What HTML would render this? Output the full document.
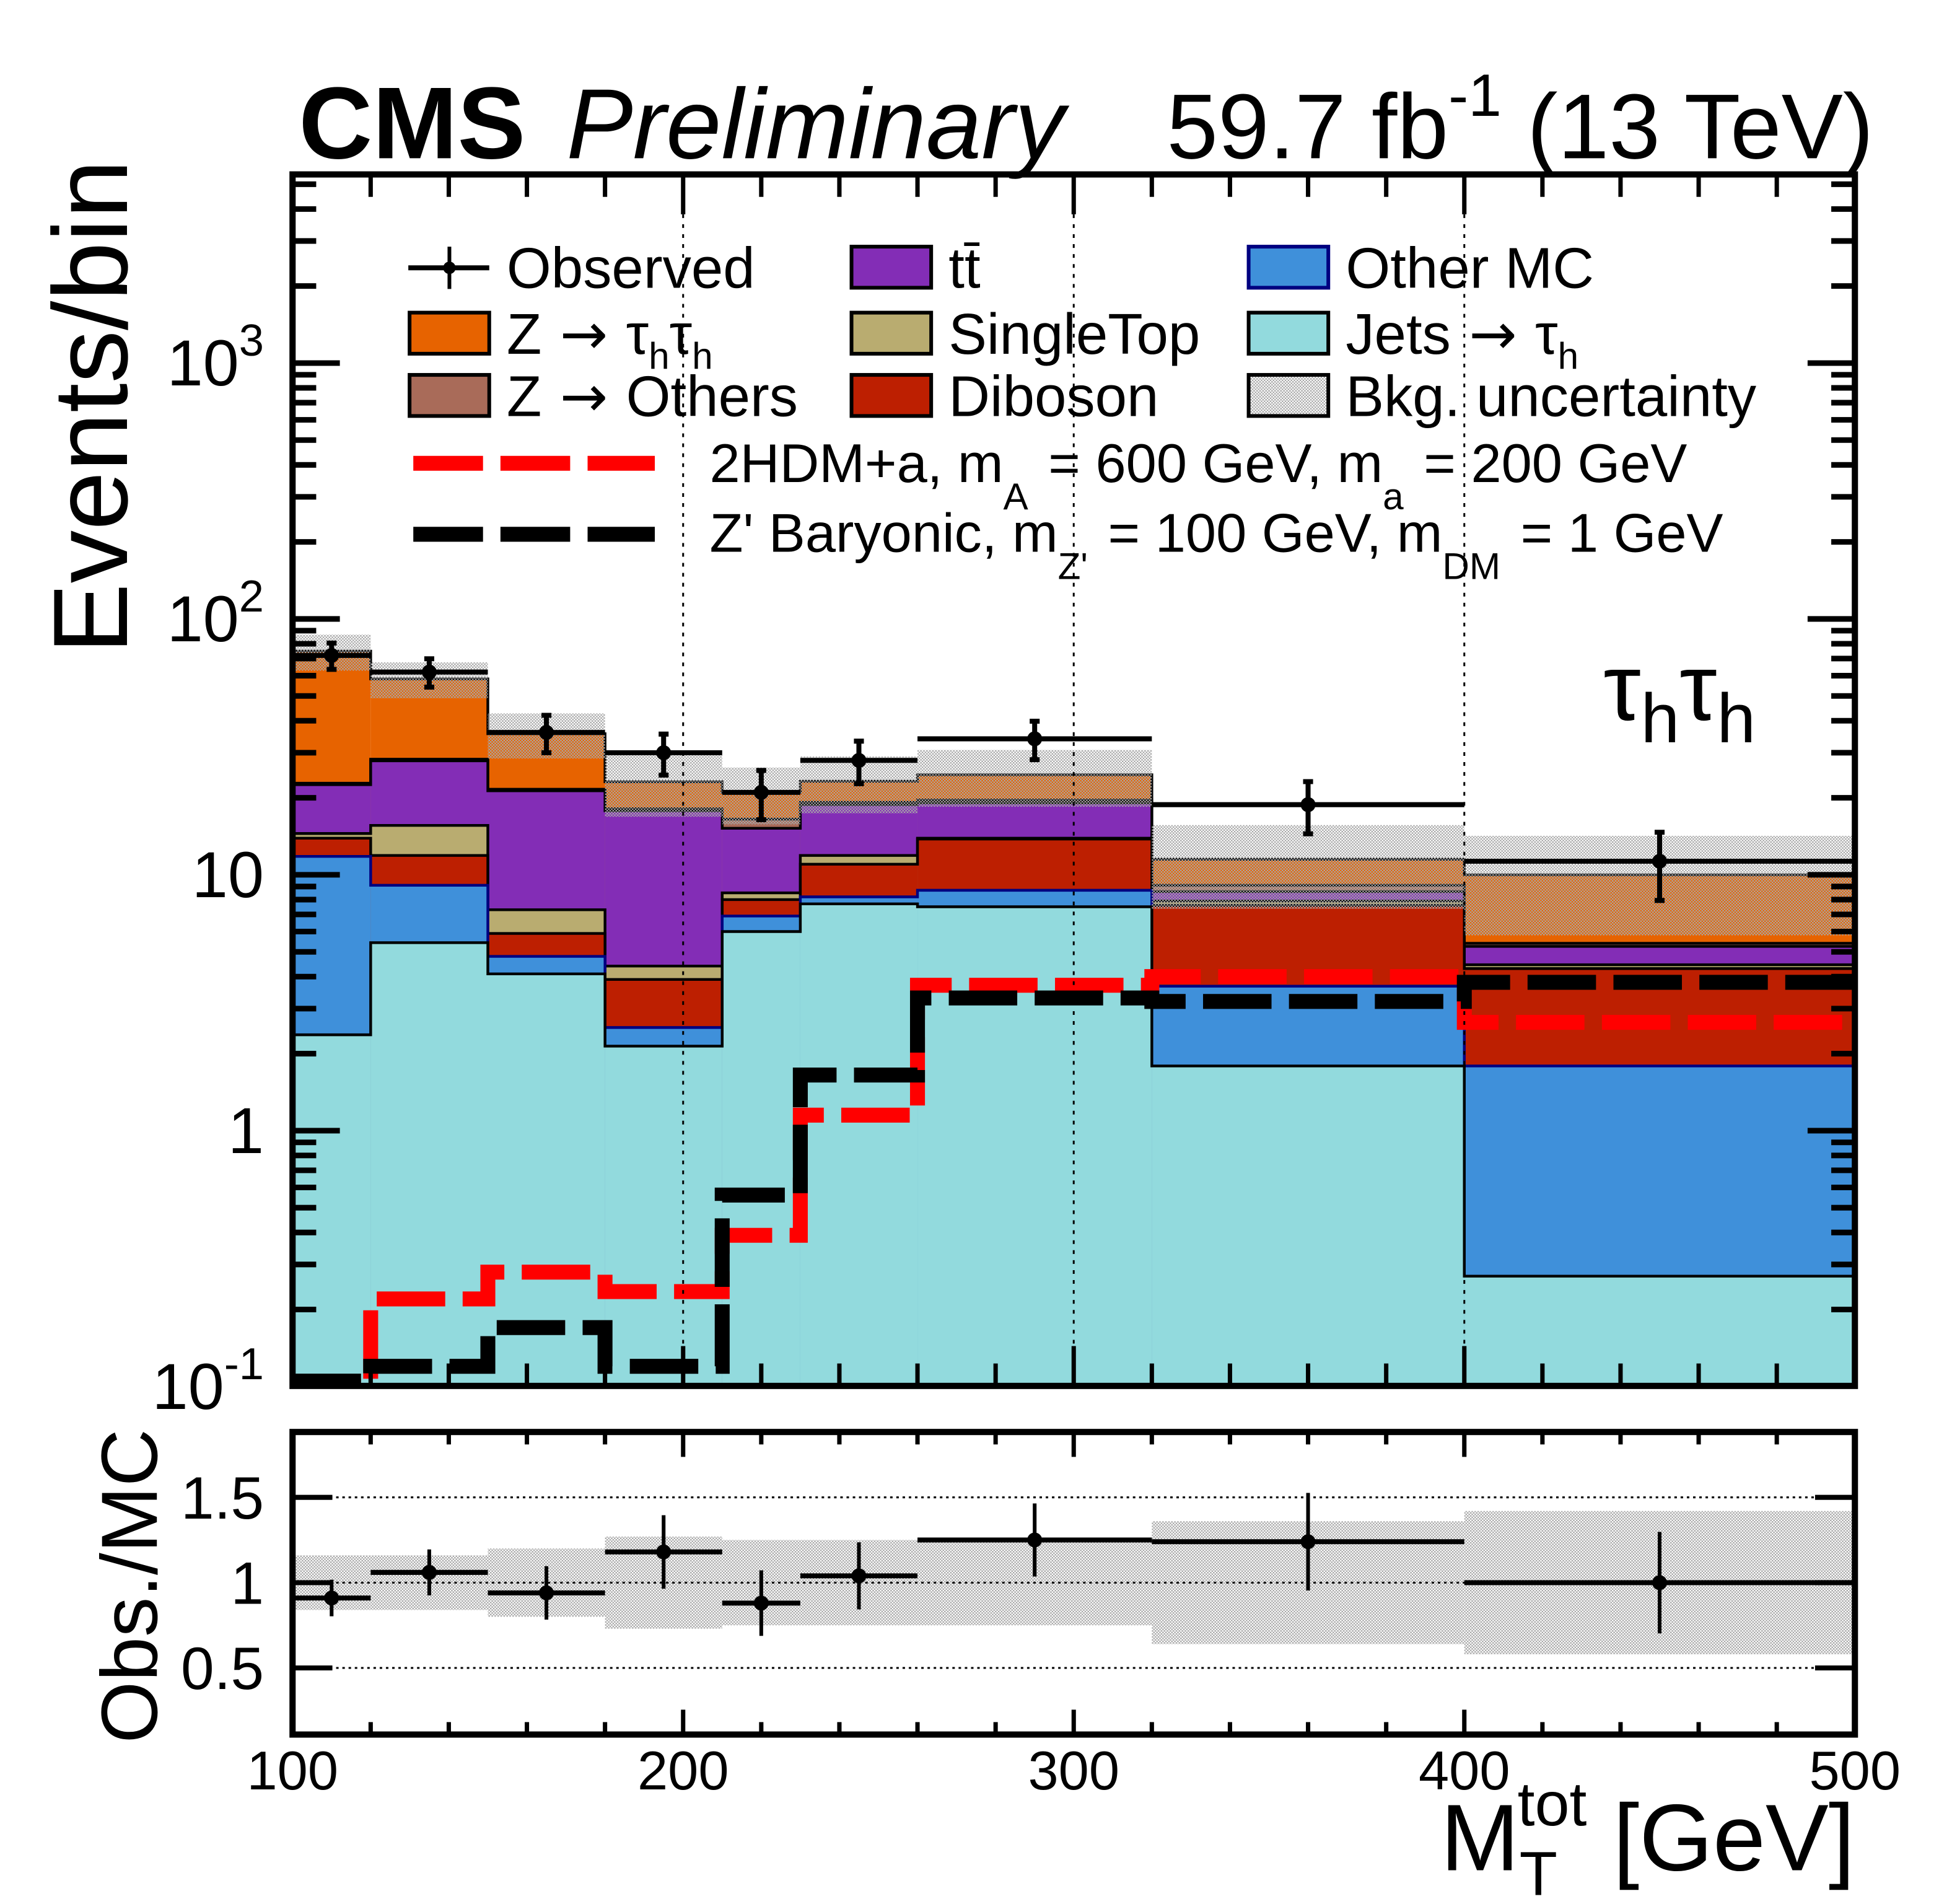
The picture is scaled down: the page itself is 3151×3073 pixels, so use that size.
<!DOCTYPE html>
<html><head><meta charset="utf-8">
<style>
html,body{margin:0;padding:0;background:#fff;}
svg{display:block;font-family:"Liberation Sans",sans-serif;}
.ar{font-family:"DejaVu Sans",sans-serif;}
</style></head>
<body>
<svg id="chart" xmlns="http://www.w3.org/2000/svg" width="3151" height="3073" viewBox="0 0 1568 1529">
<defs>
<pattern id="hatch" width="2.4" height="2.4" patternUnits="userSpaceOnUse">
<rect x="0" y="0" width="1.2" height="1.2" fill="#a8a8a8"/>
<rect x="1.2" y="1.2" width="1.2" height="1.2" fill="#a8a8a8"/>
</pattern>
<clipPath id="mainclip"><rect x="235" y="140" width="1255" height="973"/></clipPath>
<clipPath id="ratioclip"><rect x="235" y="1150" width="1255" height="243"/></clipPath>
</defs>
<g id="main"></g>
<g id="ratio"></g>
<g id="texts">
<text x="240" y="127" font-size="82" font-weight="bold">CMS</text>
<text x="455" y="127" font-size="80" font-style="italic">Preliminary</text>
<text x="1505" y="127" font-size="74" text-anchor="end">59.7 fb<tspan font-size="48" dy="-34">-1</tspan><tspan dy="34"> (13 TeV)</tspan></text>
<text transform="translate(102,525) rotate(-90)" font-size="85">Events/bin</text>
<text transform="translate(126,1400) rotate(-90)" font-size="64">Obs./MC</text>
<text x="1490" y="1502" font-size="76" text-anchor="end">M<tspan font-size="50" dy="20">T</tspan><tspan font-size="50" dy="-56" dx="-32">tot</tspan><tspan dy="36"> [GeV]</tspan></text>
<text x="1288" y="578" font-size="76">τ<tspan font-size="56" dy="18">h</tspan><tspan dy="-18" font-size="76">τ</tspan><tspan font-size="56" dy="18">h</tspan></text>
</g>
<g id="legend"></g>
</svg>
<script>
const NS="http://www.w3.org/2000/svg";
const binEdges=[100,120,150,180,210,230,260,320,400,500];
const jets=[2.37,5.43,4.1,2.14,6.0,7.7,7.5,1.79,0.27];
const otherMC=[9.43,3.67,0.7,0.39,0.9,0.5,1.2,1.88,1.52];
const diboson=[2.1,2.8,1.1,1.37,1.1,2.8,5.1,3.93,2.51];
const singleTop=[0.6,3.7,1.4,0.5,0.5,0.9,0.1,0.3,0.15];
const ttbar=[8.0,12.3,14.0,13.4,6.7,6.9,5.2,0.7,0.8];
const zOthers=[0.3,0.4,0.3,0.3,1.3,0.4,0.5,0.5,0.15];
const zTauTau=[52,30,14,5,4.5,4,5,2.4,4.6];
const bkgUnc=[0.16,0.16,0.2,0.27,0.25,0.25,0.25,0.36,0.42];
const obsX=[110,135,165,195,220,245,290,360,450];
const obsY=[72,62,36,30,21,28,34,18.8,11.3];
const ratioY=[0.91,1.06,0.94,1.18,0.88,1.04,1.25,1.24,1.0];
const sig2hdm=[0.1,0.22,0.28,0.235,0.39,1.15,3.7,4.0,2.65];
const sigZp=[0.105,0.12,0.17,0.12,0.56,1.65,3.3,3.2,3.8];
const xTicks=[100,200,300,400,500];
const yTickVals=[0.1,1,10,100,1000];
const yTickLabels=["10^-1","1","10","10^2","10^3"];
const ratioTicks=[0.5,1,1.5];
const ratioTickLabels=["0.5","1","1.5"];

const X0=235,X1=1490,YT=140,YB=1113,RT=1150,RB=1393;
const xs=v=>X0+(v-100)*(X1-X0)/400;
const ys=v=>908-205.5*Math.log10(Math.max(v,1e-4));
const yr=v=>1271-137*(v-1);
function el(tag,attrs,parent){const e=document.createElementNS(NS,tag);for(const k in attrs)e.setAttribute(k,attrs[k]);parent.appendChild(e);return e;}
const main=document.getElementById('main');
const ratio=document.getElementById('ratio');
const mg=el('g',{'clip-path':'url(#mainclip)'},main);
const nb=binEdges.length-1;
const layers=[[jets,'#92dadd','#000','jets-to-tau'],[otherMC,'#3f90da','#000080','other-mc'],[diboson,'#bd1f01','#000','diboson'],[singleTop,'#b9ac70','#000','single-top'],[ttbar,'#832db6','#000','ttbar'],[zOthers,'#a96b59','#000','z-others'],[zTauTau,'#e76300','#000','z-tautau']];
let cum=new Array(nb).fill(0);
const tops=[];
layers.forEach(L=>{const lo=cum.slice();cum=cum.map((c,i)=>c+L[0][i]);tops.push([lo,cum.slice(),L]);});
const total=cum.slice();
for(let li=tops.length-1;li>=0;li--){
  const [lo,hi,L]=tops[li];
  const g=el('g',{},mg);
  
  
  for(let i=0;i<nb;i++){
    const r=el('rect',{x:xs(binEdges[i]),y:ys(hi[i]),width:xs(binEdges[i+1])-xs(binEdges[i]),height:YB+5-ys(hi[i]),fill:L[1]},g);
    
    
  }
  let d='';for(let i=0;i<nb;i++){d+=(i?'L':'M')+xs(binEdges[i])+','+ys(hi[i])+'L'+xs(binEdges[i+1])+','+ys(hi[i]);}
  el('path',{d:d,fill:'none',stroke:L[2],'stroke-width':2.2},g);
}
for(let i=0;i<nb;i++){
  const r=el('rect',{x:xs(binEdges[i]),y:ys(total[i]*(1+bkgUnc[i])),width:xs(binEdges[i+1])-xs(binEdges[i]),height:ys(total[i]*(1-bkgUnc[i]))-ys(total[i]*(1+bkgUnc[i])),fill:'url(#hatch)'},mg);
  
  
}
[200,300,400].forEach(v=>{const l=el('line',{x1:xs(v),x2:xs(v),y1:YT,y2:YB,stroke:'#000','stroke-width':1.5,'stroke-dasharray':'3,5'},main);});
function stepPath(arr){let d='';for(let i=0;i<nb;i++){d+=(i?'L':'M')+xs(binEdges[i])+','+ys(arr[i])+'L'+xs(binEdges[i+1])+','+ys(arr[i]);}return d;}
const sr=el('path',{d:stepPath(sig2hdm),fill:'none',stroke:'#ff0000','stroke-width':12,'stroke-dasharray':'55,14'},mg);


const sb=el('path',{d:stepPath(sigZp),fill:'none',stroke:'#000','stroke-width':12,'stroke-dasharray':'55,14'},mg);


for(let i=0;i<nb;i++){
  const g=el('g',{},main);
  
  
  const x=xs(obsX[i]),y=ys(obsY[i]),e=Math.sqrt(obsY[i]);
  el('line',{x1:xs(binEdges[i]),x2:xs(binEdges[i+1]),y1:y,y2:y,stroke:'#000','stroke-width':4},g);
  el('line',{x1:x,x2:x,y1:ys(obsY[i]+e),y2:ys(obsY[i]-e),stroke:'#000','stroke-width':4},g);
  el('line',{x1:x-4,x2:x+4,y1:ys(obsY[i]+e),y2:ys(obsY[i]+e),stroke:'#000','stroke-width':4},g);
  el('line',{x1:x-4,x2:x+4,y1:ys(obsY[i]-e),y2:ys(obsY[i]-e),stroke:'#000','stroke-width':4},g);
  el('circle',{cx:x,cy:y,r:6,fill:'#000'},g);
}
for(let v=100;v<=500;v+=20){const maj=v%100===0;const L=maj?32:18;
  el('line',{x1:xs(v),x2:xs(v),y1:YT,y2:YT+L,stroke:'#000','stroke-width':3.5},main);
  el('line',{x1:xs(v),x2:xs(v),y1:YB,y2:YB-L,stroke:'#000','stroke-width':3.5},main);}
for(let dec=-1;dec<=3;dec++){for(let m=1;m<=9;m++){const v=m*Math.pow(10,dec);const y=ys(v);if(y<YT||y>YB)continue;const L=m===1?38:19;
  el('line',{x1:X0,x2:X0+L,y1:y,y2:y,stroke:'#000','stroke-width':4.5},main);
  el('line',{x1:X1,x2:X1-L,y1:y,y2:y,stroke:'#000','stroke-width':4.5},main);}}
yTickVals.forEach((v,i)=>{const lab=yTickLabels[i];const t=el('text',{x:212,y:ys(v)+18,'font-size':52,'text-anchor':'end'},main);
  
  
  if(lab.indexOf('^')>=0){const p=lab.split('^');t.textContent=p[0];const s=el('tspan',{'font-size':36,dy:-24},t);s.textContent=p[1];}else t.textContent=lab;});
el('rect',{x:X0,y:YT,width:X1-X0,height:YB-YT,fill:'none',stroke:'#000','stroke-width':5},main);
const rg=el('g',{'clip-path':'url(#ratioclip)'},ratio);
for(let i=0;i<nb;i++){const r=el('rect',{x:xs(binEdges[i]),y:yr(1+bkgUnc[i]),width:xs(binEdges[i+1])-xs(binEdges[i]),height:yr(1-bkgUnc[i])-yr(1+bkgUnc[i]),fill:'url(#hatch)'},rg);
  
  }
ratioTicks.forEach((v,i)=>{el('line',{x1:X0,x2:X1,y1:yr(v),y2:yr(v),stroke:'#000','stroke-width':1.5,'stroke-dasharray':'2,3'},ratio);
  el('line',{x1:X0,x2:X0+32,y1:yr(v),y2:yr(v),stroke:'#000','stroke-width':4},ratio);
  el('line',{x1:X1,x2:X1-32,y1:yr(v),y2:yr(v),stroke:'#000','stroke-width':4},ratio);
  const t=el('text',{x:212,y:yr(v)+17,'font-size':48,'text-anchor':'end'},ratio);t.textContent=ratioTickLabels[i];
  
  });
for(let i=0;i<nb;i++){
  const g=el('g',{},ratio);
  
  
  const x=xs(obsX[i]),y=yr(ratioY[i]),e=ratioY[i]/Math.sqrt(obsY[i]);
  el('line',{x1:xs(binEdges[i]),x2:xs(binEdges[i+1]),y1:y,y2:y,stroke:'#000','stroke-width':4},g);
  el('line',{x1:x,x2:x,y1:yr(ratioY[i]+e),y2:yr(ratioY[i]-e),stroke:'#000','stroke-width':3},g);
  el('circle',{cx:x,cy:y,r:6,fill:'#000'},g);
}
for(let v=100;v<=500;v+=20){const maj=v%100===0;const L=maj?20:10;
  el('line',{x1:xs(v),x2:xs(v),y1:RT,y2:RT+L,stroke:'#000','stroke-width':3.5},ratio);
  el('line',{x1:xs(v),x2:xs(v),y1:RB,y2:RB-L,stroke:'#000','stroke-width':3.5},ratio);}
xTicks.forEach(v=>{const t=el('text',{x:xs(v),y:1437,'font-size':44,'text-anchor':'middle'},ratio);t.textContent=String(v);
  
  });
el('rect',{x:X0,y:RT,width:X1-X0,height:RB-RT,fill:'none',stroke:'#000','stroke-width':5},ratio);
const lg=document.getElementById('legend');
function box(x,y,fill,stroke,name,label){
  const g=el('g',{},lg);
  
  
  el('rect',{x:x,y:y-17,width:64,height:33,fill:fill,stroke:stroke,'stroke-width':3},g);
  const t=el('text',{x:x+78,y:y+16,'font-size':46},g);t.innerHTML=label;
}
(function(){const g=el('g',{},lg);
 
 
 el('line',{x1:328,x2:393,y1:215,y2:215,stroke:'#000','stroke-width':4},g);
 el('line',{x1:361,x2:361,y1:198,y2:232,stroke:'#000','stroke-width':3},g);
 el('circle',{cx:361,cy:215,r:5,fill:'#000'},g);
 const t=el('text',{x:407,y:231,'font-size':46},g);t.textContent='Observed';})();
const AR='<tspan class="ar" font-size="46"> → </tspan>';
box(329,268,'#e76300','#000','legend-z-tautau','Z'+AR+'τ<tspan font-size="30" dy="12">h</tspan><tspan dy="-12">τ</tspan><tspan font-size="30" dy="12">h</tspan>');
box(329,318,'#a96b59','#000','legend-z-others','Z'+AR+'Others');
box(684,215,'#832db6','#000','legend-ttbar','tt̄');
box(684,268,'#b9ac70','#000','legend-single-top','SingleTop');
box(684,318,'#bd1f01','#000','legend-diboson','Diboson');
box(1003,215,'#3f90da','#000080','legend-other-mc','Other MC');
box(1003,268,'#92dadd','#000','legend-jets','Jets'+AR+'τ<tspan font-size="30" dy="12">h</tspan>');
box(1003,318,'url(#hatch)','#000','legend-bkg-uncertainty','Bkg. uncertainty');
(function(){
 const g1=el('g',{},lg);
 
 
 el('line',{x1:332,x2:526,y1:372,y2:372,stroke:'#ff0000','stroke-width':12,'stroke-dasharray':'56,14'},g1);
 const t1=el('text',{x:570,y:387,'font-size':44},g1);
 t1.innerHTML='2HDM+a, m<tspan font-size="30" dy="22">A</tspan><tspan dy="-22" dx="4"> = 600 GeV, m</tspan><tspan font-size="30" dy="22">a</tspan><tspan dy="-22" dx="4"> = 200 GeV</tspan>';
 const g2=el('g',{},lg);
 
 
 el('line',{x1:332,x2:526,y1:429,y2:429,stroke:'#000','stroke-width':12,'stroke-dasharray':'56,14'},g2);
 const t2=el('text',{x:570,y:443,'font-size':44},g2);
 t2.innerHTML='Z\' Baryonic, m<tspan font-size="30" dy="22">Z\'</tspan><tspan dy="-22" dx="4"> = 100 GeV, m</tspan><tspan font-size="30" dy="22">DM</tspan><tspan dy="-22" dx="4"> = 1 GeV</tspan>';
})();
</script>
</body></html>
